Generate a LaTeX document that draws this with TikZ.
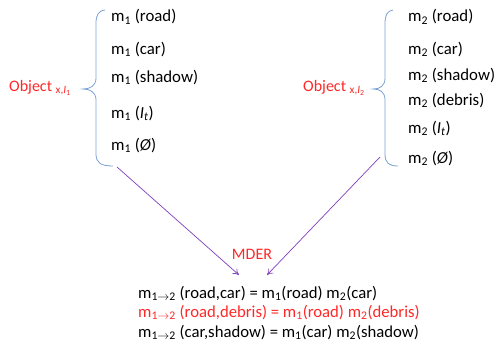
\documentclass[tikz,border=0pt]{standalone}
\usepackage{fontspec}
\setmainfont{Carlito}
\usetikzlibrary{arrows.meta}
\definecolor{bracecol}{RGB}{125,163,211}
\definecolor{arrowcol}{RGB}{128,64,190}
\definecolor{hl}{RGB}{255,40,40}
\newcommand{\msub}[1]{m\textsubscript{#1}}
\tikzset{
  item/.style={anchor=base west, inner sep=0pt, font=\fontsize{16.8}{20}\selectfont},
  rowtext/.style={anchor=base west, inner sep=0pt, font=\fontsize{16.7}{20}\selectfont},
  objlabel/.style={anchor=base west, inner sep=0pt, text=hl, font=\fontsize{16}{19}\selectfont},
  brace/.style={draw=bracecol, line width=0.8pt},
  flow/.style={draw=arrowcol, line width=0.7pt, -{To[length=6pt,width=7pt]}},
}
\begin{document}
\begin{tikzpicture}[x=1pt,y=-1pt]
\useasboundingbox (0,0) rectangle (494,345);
\fill[white] (0,0) rectangle (494,345);

% left object and its masses
\node[objlabel] (objA) at (9,91) {Object \textsubscript{x,\textit{I}\textsubscript{1}}};
\path[brace] (105,10) .. controls (98,11) and (96,15) .. (96,24)
  -- (96,78) .. controls (96,86) and (90,89) .. (83,89)
  .. controls (90,89) and (96,92) .. (96,100)
  -- (96,154) .. controls (96,163) and (101,166) .. (113,166);
\node[item] (a1) at (111,22)  {\msub{1} (road)};
\node[item] (a2) at (111,54)  {\msub{1} (car)};
\node[item] (a3) at (111,82)  {\msub{1} (shadow)};
\node[item] (a4) at (111,118) {\msub{1} (\textit{I\textsubscript{t}})};
\node[item] (a5) at (111,150) {\msub{1} (\textit{Ø})};

% right object and its masses
\node[objlabel] (objB) at (303,91) {Object \textsubscript{x,\textit{I}\textsubscript{2}}};
\path[brace] (393,10) .. controls (387,11) and (385,15) .. (385,24)
  -- (385,78) .. controls (385,86) and (380,89) .. (373,89)
  .. controls (380,89) and (385,92) .. (385,100)
  -- (385,154) .. controls (385,163) and (389,166) .. (398,166);
\node[item] (b1) at (408,22)  {\msub{2} (road)};
\node[item] (b2) at (408,54)  {\msub{2} (car)};
\node[item] (b3) at (408,80)  {\msub{2} (shadow)};
\node[item] (b4) at (408,105) {\msub{2} (debris)};
\node[item] (b5) at (408,133) {\msub{2} (\textit{I\textsubscript{t}})};
\node[item] (b6) at (408,163) {\msub{2} (\textit{Ø})};

% combination rule
\node[anchor=base, inner sep=0pt, text=hl, font=\fontsize{16}{19}\selectfont] (mder) at (252,259) {MDER};
\coordinate (fromA) at (117,167);
\coordinate (fromB) at (380,157);
\coordinate (toA) at (239,275);
\coordinate (toB) at (267,275);
\draw[flow] (fromA) -- (toA);
\draw[flow] (fromB) -- (toB);

\node[rowtext] (r1) at (138,298) {m\textsubscript{1$\rightarrow$2} (road,car) = \msub{1}(road) \msub{2}(car)};
\node[rowtext, text=hl] (r2) at (138,317) {m\textsubscript{1$\rightarrow$2} (road,debris) = \msub{1}(road) \msub{2}(debris)};
\node[rowtext] (r3) at (138,337) {m\textsubscript{1$\rightarrow$2} (car,shadow) = \msub{1}(car) \msub{2}(shadow)};
\end{tikzpicture}
\end{document}
